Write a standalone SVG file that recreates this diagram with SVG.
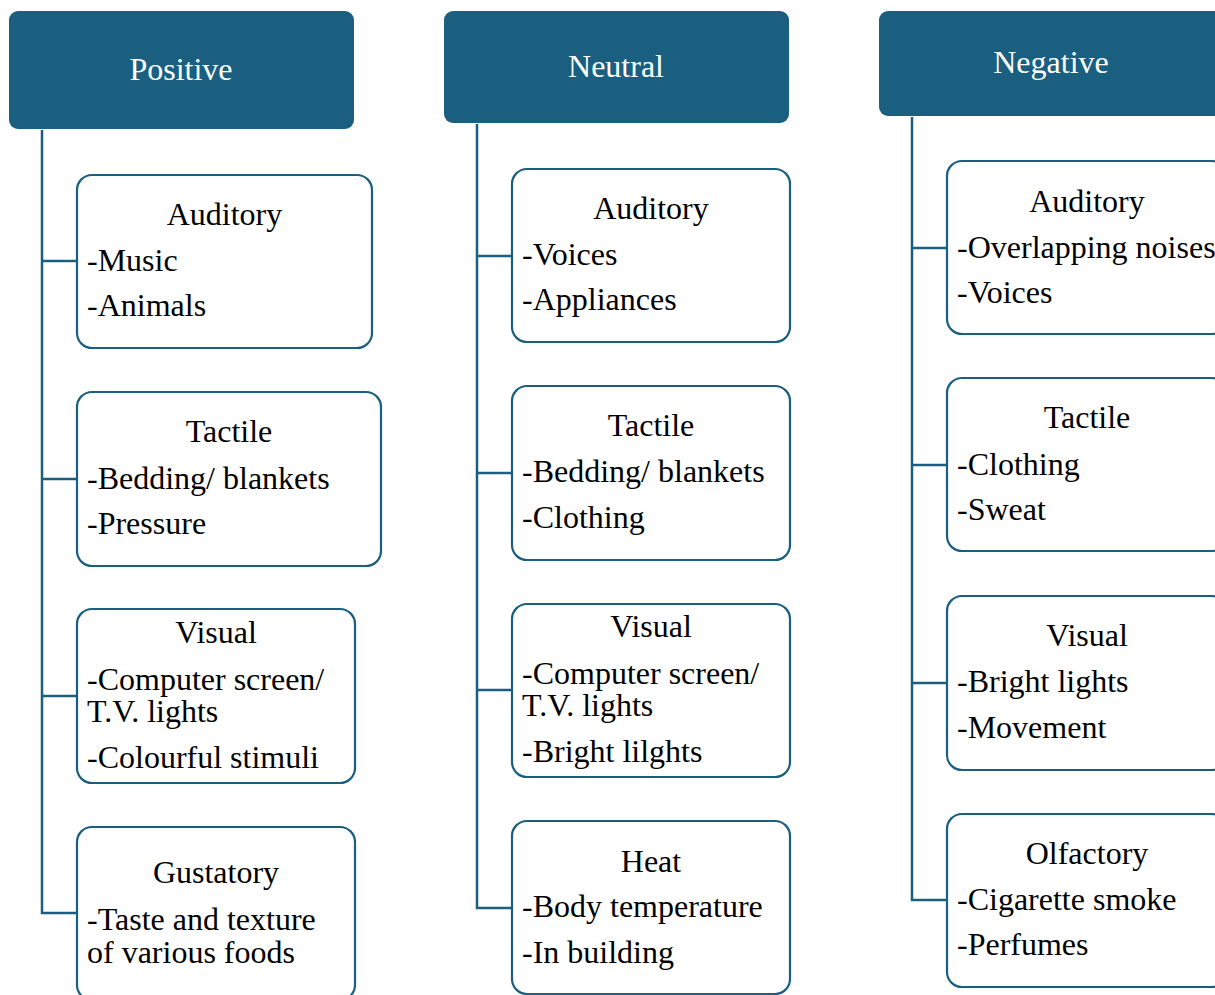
<svg xmlns="http://www.w3.org/2000/svg" width="1215" height="995" viewBox="0 0 1215 995">
<style>
.hdr{fill:#1a5f80;}
.hdrt{fill:#ffffff;font-family:"Liberation Serif",serif;font-size:32px;text-anchor:middle;}
.box{fill:#ffffff;stroke:#1a5f80;stroke-width:2.2;}
.t{fill:#000000;font-family:"Liberation Serif",serif;font-size:32px;}
.c{text-anchor:middle;}
.con{fill:none;stroke:#1a5f80;stroke-width:2.5;}
</style>
<rect width="1215" height="995" fill="#ffffff"/>
<g id="connectors">
<path class="con" d="M42 130 V913 H77 M42 261 H77 M42 479 H77 M42 696 H77"/>
<path class="con" d="M477 124 V908 H512 M477 256 H512 M477 473 H512 M477 690 H512"/>
<path class="con" d="M912 117 V900 H947 M912 248 H947 M912 465 H947 M912 683 H947"/>
</g>
<g id="positive">
<rect class="hdr" x="9" y="11" width="345" height="118" rx="9"/>
<text class="hdrt" x="181" y="80">Positive</text>
</g>
<g id="neutral">
<rect class="hdr" x="444" y="11" width="345" height="112" rx="9"/>
<text class="hdrt" x="616" y="77">Neutral</text>
</g>
<g id="negative">
<rect class="hdr" x="879" y="11" width="345" height="105" rx="9"/>
<text class="hdrt" x="1051" y="73">Negative</text>
</g>
<g id="pos-auditory">
<rect class="box" x="77" y="175" width="295" height="173" rx="15"/>
<text class="t c" x="224.5" y="225">Auditory</text>
<text class="t" x="87" y="271">-Music</text>
<text class="t" x="87" y="316">-Animals</text>
</g>
<g id="pos-tactile">
<rect class="box" x="77" y="392" width="304" height="174" rx="15"/>
<text class="t c" x="229" y="442">Tactile</text>
<text class="t" x="87" y="489">-Bedding/ blankets</text>
<text class="t" x="87" y="534">-Pressure</text>
</g>
<g id="pos-visual">
<rect class="box" x="77" y="609" width="278" height="174" rx="15"/>
<text class="t c" x="216" y="643">Visual</text>
<text class="t" x="87" y="690">-Computer screen/</text>
<text class="t" x="87" y="722">T.V. lights</text>
<text class="t" x="87" y="768">-Colourful stimuli</text>
</g>
<g id="pos-gustatory">
<rect class="box" x="77" y="827" width="278" height="173" rx="15"/>
<text class="t c" x="216" y="883">Gustatory</text>
<text class="t" x="87" y="930">-Taste and texture</text>
<text class="t" x="87" y="963">of various foods</text>
</g>
<g id="neu-auditory">
<rect class="box" x="512" y="169" width="278" height="173" rx="15"/>
<text class="t c" x="651" y="219">Auditory</text>
<text class="t" x="522" y="265">-Voices</text>
<text class="t" x="522" y="310">-Appliances</text>
</g>
<g id="neu-tactile">
<rect class="box" x="512" y="386" width="278" height="174" rx="15"/>
<text class="t c" x="651" y="436">Tactile</text>
<text class="t" x="522" y="482">-Bedding/ blankets</text>
<text class="t" x="522" y="528">-Clothing</text>
</g>
<g id="neu-visual">
<rect class="box" x="512" y="604" width="278" height="173" rx="15"/>
<text class="t c" x="651" y="637">Visual</text>
<text class="t" x="522" y="684">-Computer screen/</text>
<text class="t" x="522" y="716">T.V. lights</text>
<text class="t" x="522" y="762">-Bright lilghts</text>
</g>
<g id="neu-heat">
<rect class="box" x="512" y="821" width="278" height="173" rx="15"/>
<text class="t c" x="651" y="872">Heat</text>
<text class="t" x="522" y="917">-Body temperature</text>
<text class="t" x="522" y="963">-In building</text>
</g>
<g id="neg-auditory">
<rect class="box" x="947" y="161" width="280" height="173" rx="15"/>
<text class="t c" x="1087" y="212">Auditory</text>
<text class="t" x="957" y="258">-Overlapping noises</text>
<text class="t" x="957" y="303">-Voices</text>
</g>
<g id="neg-tactile">
<rect class="box" x="947" y="378" width="280" height="173" rx="15"/>
<text class="t c" x="1087" y="428">Tactile</text>
<text class="t" x="957" y="475">-Clothing</text>
<text class="t" x="957" y="520">-Sweat</text>
</g>
<g id="neg-visual">
<rect class="box" x="947" y="596" width="280" height="174" rx="15"/>
<text class="t c" x="1087" y="646">Visual</text>
<text class="t" x="957" y="692">-Bright lights</text>
<text class="t" x="957" y="738">-Movement</text>
</g>
<g id="neg-olfactory">
<rect class="box" x="947" y="814" width="280" height="173" rx="15"/>
<text class="t c" x="1087" y="864">Olfactory</text>
<text class="t" x="957" y="910">-Cigarette smoke</text>
<text class="t" x="957" y="955">-Perfumes</text>
</g>
</svg>
